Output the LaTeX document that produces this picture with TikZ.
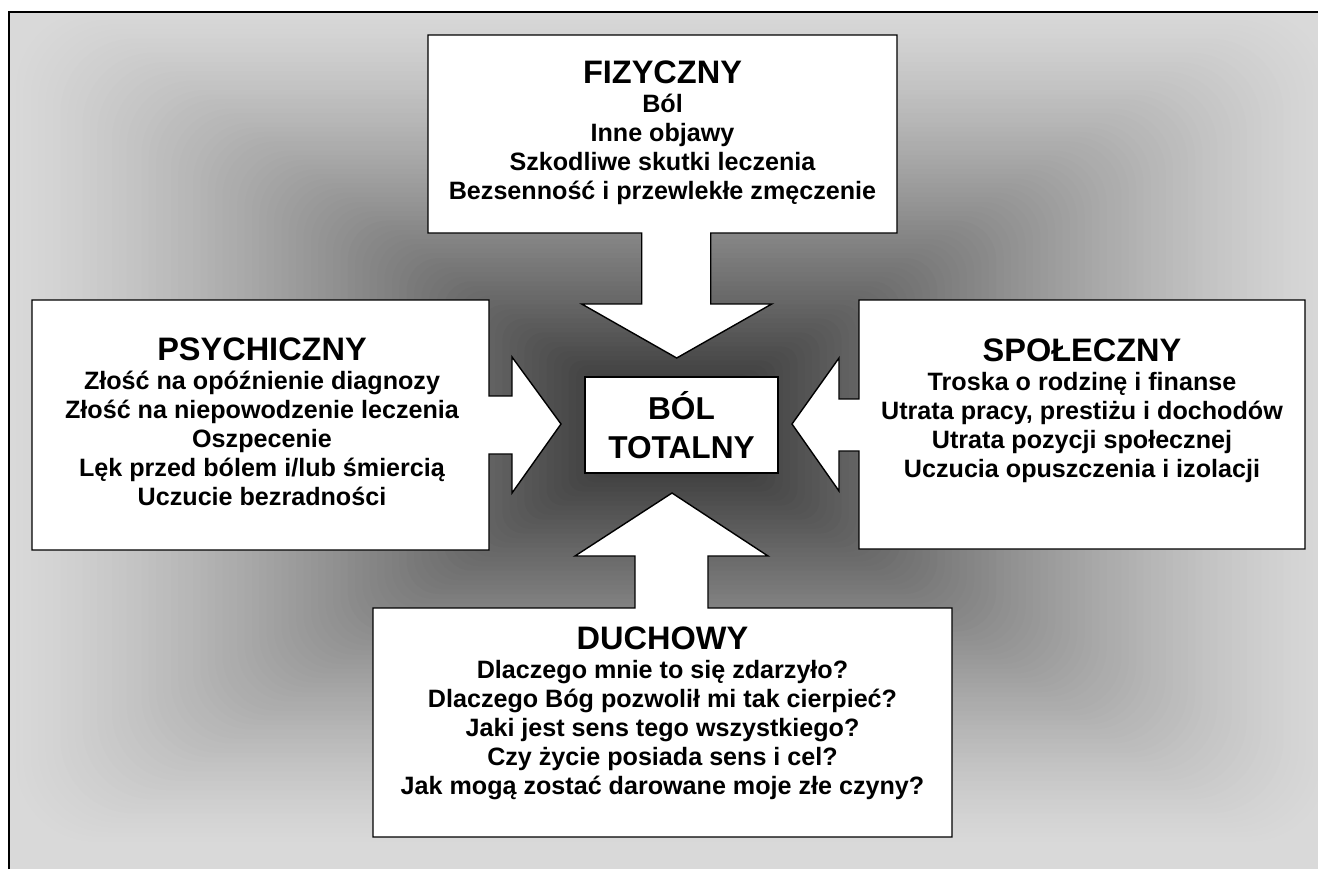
\documentclass[tikz,border=0pt]{standalone}
\usepackage{fontspec}
\setmainfont{Liberation Sans}
\def\topcallout{(428,35) -- (897,35) -- (897,233) -- (710.7,233) -- (710.7,304) -- (771.7,304) -- (676.7,358) -- (581.7,304) -- (641.7,304) -- (641.7,233) -- (428,233) -- cycle}
\def\leftcallout{(32,300) -- (489,300) -- (489,396) -- (512,396) -- (512,357) -- (561,424) -- (512,493) -- (512,454) -- (489,454) -- (489,550) -- (32,550) -- cycle}
\def\rightcallout{(1305,300) -- (859,300) -- (859,399) -- (839,399) -- (839,358) -- (792,424) -- (839,491) -- (839,451) -- (859,451) -- (859,549) -- (1305,549) -- cycle}
\def\bottomcallout{(373,837) -- (952,837) -- (952,608) -- (708,608) -- (708,556) -- (768,556) -- (672,493) -- (575,556) -- (635,556) -- (635,608) -- (373,608) -- cycle}
\newcommand\boxhead[1]{{\fontsize{18.5}{16.5}\selectfont\bfseries #1}}
\colorlet{callout edge}{black}
\colorlet{callout area}{white}
\colorlet{page gray}{black!15}
\tikzset{callout/.style={fill=callout area, draw=callout edge, line width=0.8pt},
    boxtext/.style={align=center, font=\fontsize{14.3}{16.5}\selectfont\bfseries},
    centerbox/.style={draw=callout edge, fill=callout area, line width=0.8pt,
      minimum width=3.86cm, minimum height=1.92cm, align=center,
      font=\fontsize{18}{21.6}\selectfont\bfseries}}

\begin{document}
\begin{tikzpicture}[x=0.02cm, y=-0.02cm]
    \useasboundingbox (0,0) rectangle (1318,869);
    \begin{scope}
        \clip (9,12) rectangle (1318,869);
        \fill[page gray] (9,12) rectangle (1318,869);
        \foreach \i in {0,...,89}{
            \pgfmathsetmacro\s{1-\i/90}
            \pgfmathsetmacro\k{15+70*(1-\s)^1.25}
            \pgfmathsetmacro\r{1.6*\s+0.01}
            \fill[black!\k, rounded corners=\r cm]
              (672-663*\s,426-420*\s) rectangle (672+663*\s,426+420*\s);
        }
    \end{scope}
    \draw[line width=1.1pt] (9,869) -- (9,12) -- (1318,12);
    \draw[callout] \topcallout;
    \draw[callout] \leftcallout;
    \draw[callout] \rightcallout;
    \draw[callout] \bottomcallout;
    \node[boxtext] (fiz) at (662.5,133)
      {\boxhead{FIZYCZNY}\\ Ból\\ Inne objawy\\ Szkodliwe skutki leczenia\\
       Bezsenność i przewlekłe zmęczenie};
    \node[boxtext] (psy) at (262,422)
      {\boxhead{PSYCHICZNY}\\ Złość na opóźnienie diagnozy\\ Złość na niepowodzenie leczenia\\
       Oszpecenie\\ Lęk przed bólem i/lub śmiercią\\ Uczucie bezradności};
    \node[boxtext] (spo) at (1082,411)
      {\boxhead{SPOŁECZNY}\\ Troska o rodzinę i finanse\\ Utrata pracy, prestiżu i dochodów\\
       Utrata pozycji społecznej\\ Uczucia opuszczenia i izolacji};
    \node[boxtext] (duch) at (662.5,713)
      {\boxhead{DUCHOWY}\\ Dlaczego mnie to się zdarzyło?\\ Dlaczego Bóg pozwolił mi tak cierpieć?\\
       Jaki jest sens tego wszystkiego?\\ Czy życie posiada sens i cel?\\
       Jak mogą zostać darowane moje złe czyny?};
    \node[centerbox] (bol) at (681.5,425) {BÓL\\[1pt] TOTALNY};
\end{tikzpicture}
\end{document}
